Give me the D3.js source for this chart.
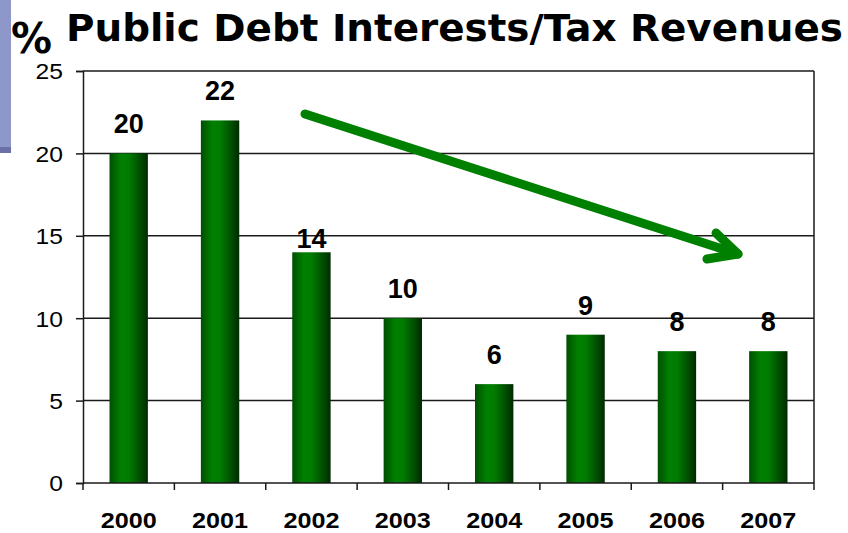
<!DOCTYPE html>
<html>
<head>
<meta charset="utf-8">
<script src="https://cdn.jsdelivr.net/npm/d3@7"></script>
<style>
  html, body { margin: 0; padding: 0; background: #fff; }
  svg { display: block; }
</style>
</head>
<body>
<svg id="chart" width="848" height="533"></svg>
<script>
// Interest on public debt as a share of tax revenues, by year
const years = ["2000", "2001", "2002", "2003", "2004", "2005", "2006", "2007"];
const ratios = [20, 22, 14, 10, 6, 9, 8, 8];
const yTicks = [0, 5, 10, 15, 20, 25];
const titleText = "Public Debt Interests/Tax Revenues";

const svg = d3.select("#chart");
const plot = { left: 83, right: 814, top: 71, bottom: 483 };

const x = d3.scaleBand().domain(years).range([plot.left, plot.right]).paddingInner(0.58).paddingOuter(0.29);
const y = d3.scaleLinear().domain([0, 25]).range([plot.bottom, plot.top]);

// Bar fill: shaded cylinder-like horizontal gradient
const defs = svg.append("defs");
const grad = defs.append("linearGradient").attr("id", "barGrad")
  .attr("x1", "0%").attr("x2", "100%").attr("y1", "0%").attr("y2", "0%");
[["0%", "#004f00"], ["30%", "#008000"], ["50%", "#007c00"], ["80%", "#004d00"], ["100%", "#002a00"]]
  .forEach(([o, c]) => grad.append("stop").attr("offset", o).attr("stop-color", c));

// Decorative side block
svg.append("rect").attr("x", 0).attr("y", 0).attr("width", 11).attr("height", 147).attr("fill", "#8e97c9");
svg.append("rect").attr("x", 0).attr("y", 147).attr("width", 11).attr("height", 6).attr("fill", "#6b70a8");

// Title
svg.append("text").attr("x", 11).attr("y", 53)
  .attr("font-family", "DejaVu Sans, Verdana, sans-serif").attr("font-weight", "bold")
  .attr("font-size", 42).attr("fill", "#000")
  .attr("textLength", 41).attr("lengthAdjust", "spacingAndGlyphs").text("%");
svg.append("text").attr("x", 66).attr("y", 41)
  .attr("font-family", "DejaVu Sans, Verdana, sans-serif").attr("font-weight", "bold")
  .attr("font-size", 37).attr("fill", "#000")
  .attr("textLength", 777).attr("lengthAdjust", "spacingAndGlyphs")
  .text(titleText);

// Horizontal gridlines
svg.append("g").selectAll("line").data(yTicks.filter(t => t > 0)).join("line")
  .attr("x1", plot.left).attr("x2", plot.right)
  .attr("y1", d => y(d)).attr("y2", d => y(d))
  .attr("stroke", "#1a1a1a").attr("stroke-width", 1.5);

// Right border of the plot area
svg.append("line").attr("x1", plot.right).attr("x2", plot.right)
  .attr("y1", plot.top).attr("y2", plot.bottom)
  .attr("stroke", "#1a1a1a").attr("stroke-width", 1.5);

// Bars
svg.append("g").selectAll("rect").data(ratios).join("rect")
  .attr("x", (d, i) => x(years[i]))
  .attr("y", d => y(d))
  .attr("width", x.bandwidth())
  .attr("height", d => plot.bottom - y(d))
  .attr("fill", "url(#barGrad)");

// Value labels (the 2002 label sits just above its bar)
const labelLift = { "2002": 4 };
svg.append("g").selectAll("text").data(ratios).join("text")
  .attr("x", (d, i) => x(years[i]) + x.bandwidth() / 2)
  .attr("y", (d, i) => y(d) - (labelLift[years[i]] ?? 20))
  .attr("text-anchor", "middle")
  .attr("font-family", "Liberation Sans, Arial, sans-serif")
  .attr("font-weight", "bold").attr("font-size", 27).attr("fill", "#000")
  .text(d => d);

// Y axis
const yAxis = d3.axisLeft(y).tickValues(yTicks).tickSize(7).tickPadding(13).tickFormat(d3.format("d"));
const gy = svg.append("g").attr("transform", `translate(${plot.left},0)`).call(yAxis);
gy.select(".domain").attr("stroke", "#1a1a1a").attr("stroke-width", 1.5);
gy.selectAll(".tick line").attr("stroke", "#1a1a1a").attr("stroke-width", 1.5);
gy.selectAll(".tick text").attr("font-family", "Liberation Sans, Arial, sans-serif")
  .attr("font-size", 22).attr("fill", "#000").attr("dy", "0.36em")
  .attr("transform", "scale(1.12,1)")
  .attr("x", -20 / 1.12);

// X axis: baseline, boundary ticks, year labels
svg.append("line").attr("x1", plot.left).attr("x2", plot.right)
  .attr("y1", plot.bottom).attr("y2", plot.bottom)
  .attr("stroke", "#1a1a1a").attr("stroke-width", 1.5);
const boundaries = d3.range(years.length + 1).map(i => plot.left + i * (plot.right - plot.left) / years.length);
svg.append("g").selectAll("line").data(boundaries).join("line")
  .attr("x1", d => d).attr("x2", d => d)
  .attr("y1", plot.bottom).attr("y2", plot.bottom + 7)
  .attr("stroke", "#1a1a1a").attr("stroke-width", 1.5);
svg.append("g").selectAll("text").data(years).join("text")
  .attr("x", d => x(d) + x.bandwidth() / 2 - 28)
  .attr("y", 528)
  .attr("font-family", "Liberation Sans, Arial, sans-serif")
  .attr("font-weight", "bold").attr("font-size", 22).attr("fill", "#000")
  .attr("textLength", 56).attr("lengthAdjust", "spacingAndGlyphs")
  .text(d => d);

// Downward trend arrow
const arrow = svg.append("g").attr("stroke", "#008000").attr("stroke-width", 9)
  .attr("stroke-linecap", "round").attr("stroke-linejoin", "round").attr("fill", "none");
const tail = [305, 114], tip = [738, 254];
arrow.append("line").attr("x1", tail[0]).attr("y1", tail[1]).attr("x2", tip[0]).attr("y2", tip[1]);
arrow.append("polyline").attr("points", [[716, 233], tip, [707, 259]].map(p => p.join(",")).join(" "));
</script>
</body>
</html>
